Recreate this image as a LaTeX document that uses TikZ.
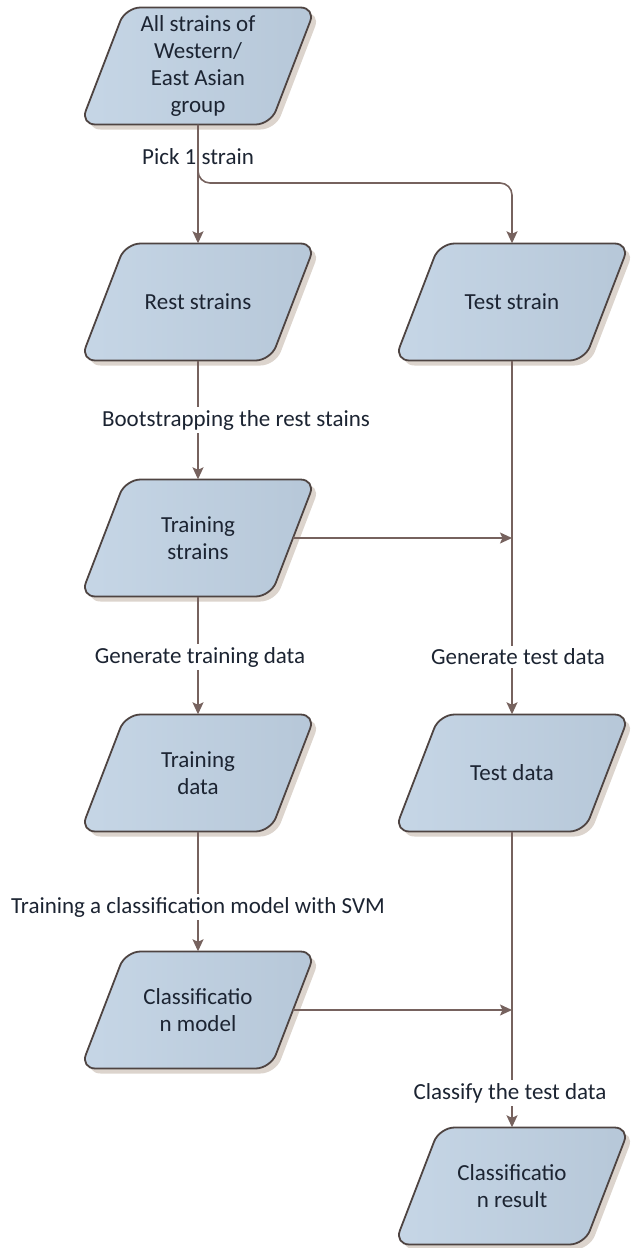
\documentclass[tikz,border=0pt]{standalone}
\usepackage{fontspec}
\setmainfont{Carlito}
\usetikzlibrary{arrows.meta,calc}
\definecolor{edgec}{RGB}{78,68,66}
\definecolor{arrc}{RGB}{118,98,94}
\definecolor{shadc}{RGB}{220,212,205}
\definecolor{filll}{RGB}{198,214,230}
\definecolor{fillr}{RGB}{182,199,216}
\definecolor{txtc}{RGB}{28,36,50}
\newcommand\parabox[4]{%
  \begin{scope}[shift={(#2,#3)}]
    \fill[shadc, rounded corners=15] (-67.5,-53.5) -- (122.5,-53.5) -- (77.5,63.5) -- (-112.5,63.5) -- cycle;
    \path[draw=edgec, line width=1.8pt, left color=filll, right color=fillr, rounded corners=15]
      (-72.5,-58.5) -- (117.5,-58.5) -- (72.5,58.5) -- (-117.5,58.5) -- cycle;
  \end{scope}
  \node[boxtext] (#1) at (#2,#3) {#4};
}
\begin{document}
\begin{tikzpicture}[x=1pt,y=-1pt,
  boxtext/.style={inner sep=0pt, minimum width=190pt, minimum height=117pt, align=center, text=txtc, font=\fontsize{23}{27}\selectfont},
  lab/.style={inner sep=3pt, text=txtc, font=\fontsize{23}{27}\selectfont},
  labw/.style={lab, fill=white},
  arr/.style={draw=arrc, line width=1.6pt, -{Stealth[length=12pt,width=11pt,inset=2.5pt]}}]
\useasboundingbox (0,0) rectangle (635,1248);

\parabox{all}{198}{66}{All strains of\\Western/\\East Asian\\group}
\parabox{rest}{198}{302}{Rest strains}
\parabox{ts}{512}{302}{Test strain}
\parabox{trs}{198}{538}{Training\\strains}
\parabox{trd}{198}{773}{Training\\data}
\parabox{tsd}{512}{773}{Test data}
\parabox{model}{198}{1010}{Classificatio\\n model}
\parabox{res}{512}{1186}{Classificatio\\n result}

\coordinate (br) at (512,183);
\draw[arr] (all.south) -- (rest.north);
\draw[arr, rounded corners=12] (all.south) |- (br) -- (ts.north);
\draw[arr] (rest.south) -- (trs.north);
\draw[arr] (ts.south) -- (tsd.north);
\draw[arr] (trs.east) -- (trs.east -| ts.south);
\draw[arr] (trs.south) -- (trd.north);
\draw[arr] (trd.south) -- (model.north);
\draw[arr] (tsd.south) -- (res.north);
\draw[arr] (model.east) -- (model.east -| tsd.south);

\node[lab] (l1) at (198,157) {Pick 1 strain};
\node[labw] (l2) at (236,420) {Bootstrapping the rest stains};
\node[labw] (l3) at (200,657) {Generate training data};
\node[labw] (l4) at (518,657) {Generate test data};
\node[labw] (l5) at (198,907) {Training a classification model with SVM};
\node[labw] (l6) at (510,1093) {Classify the test data};
\end{tikzpicture}
\end{document}
